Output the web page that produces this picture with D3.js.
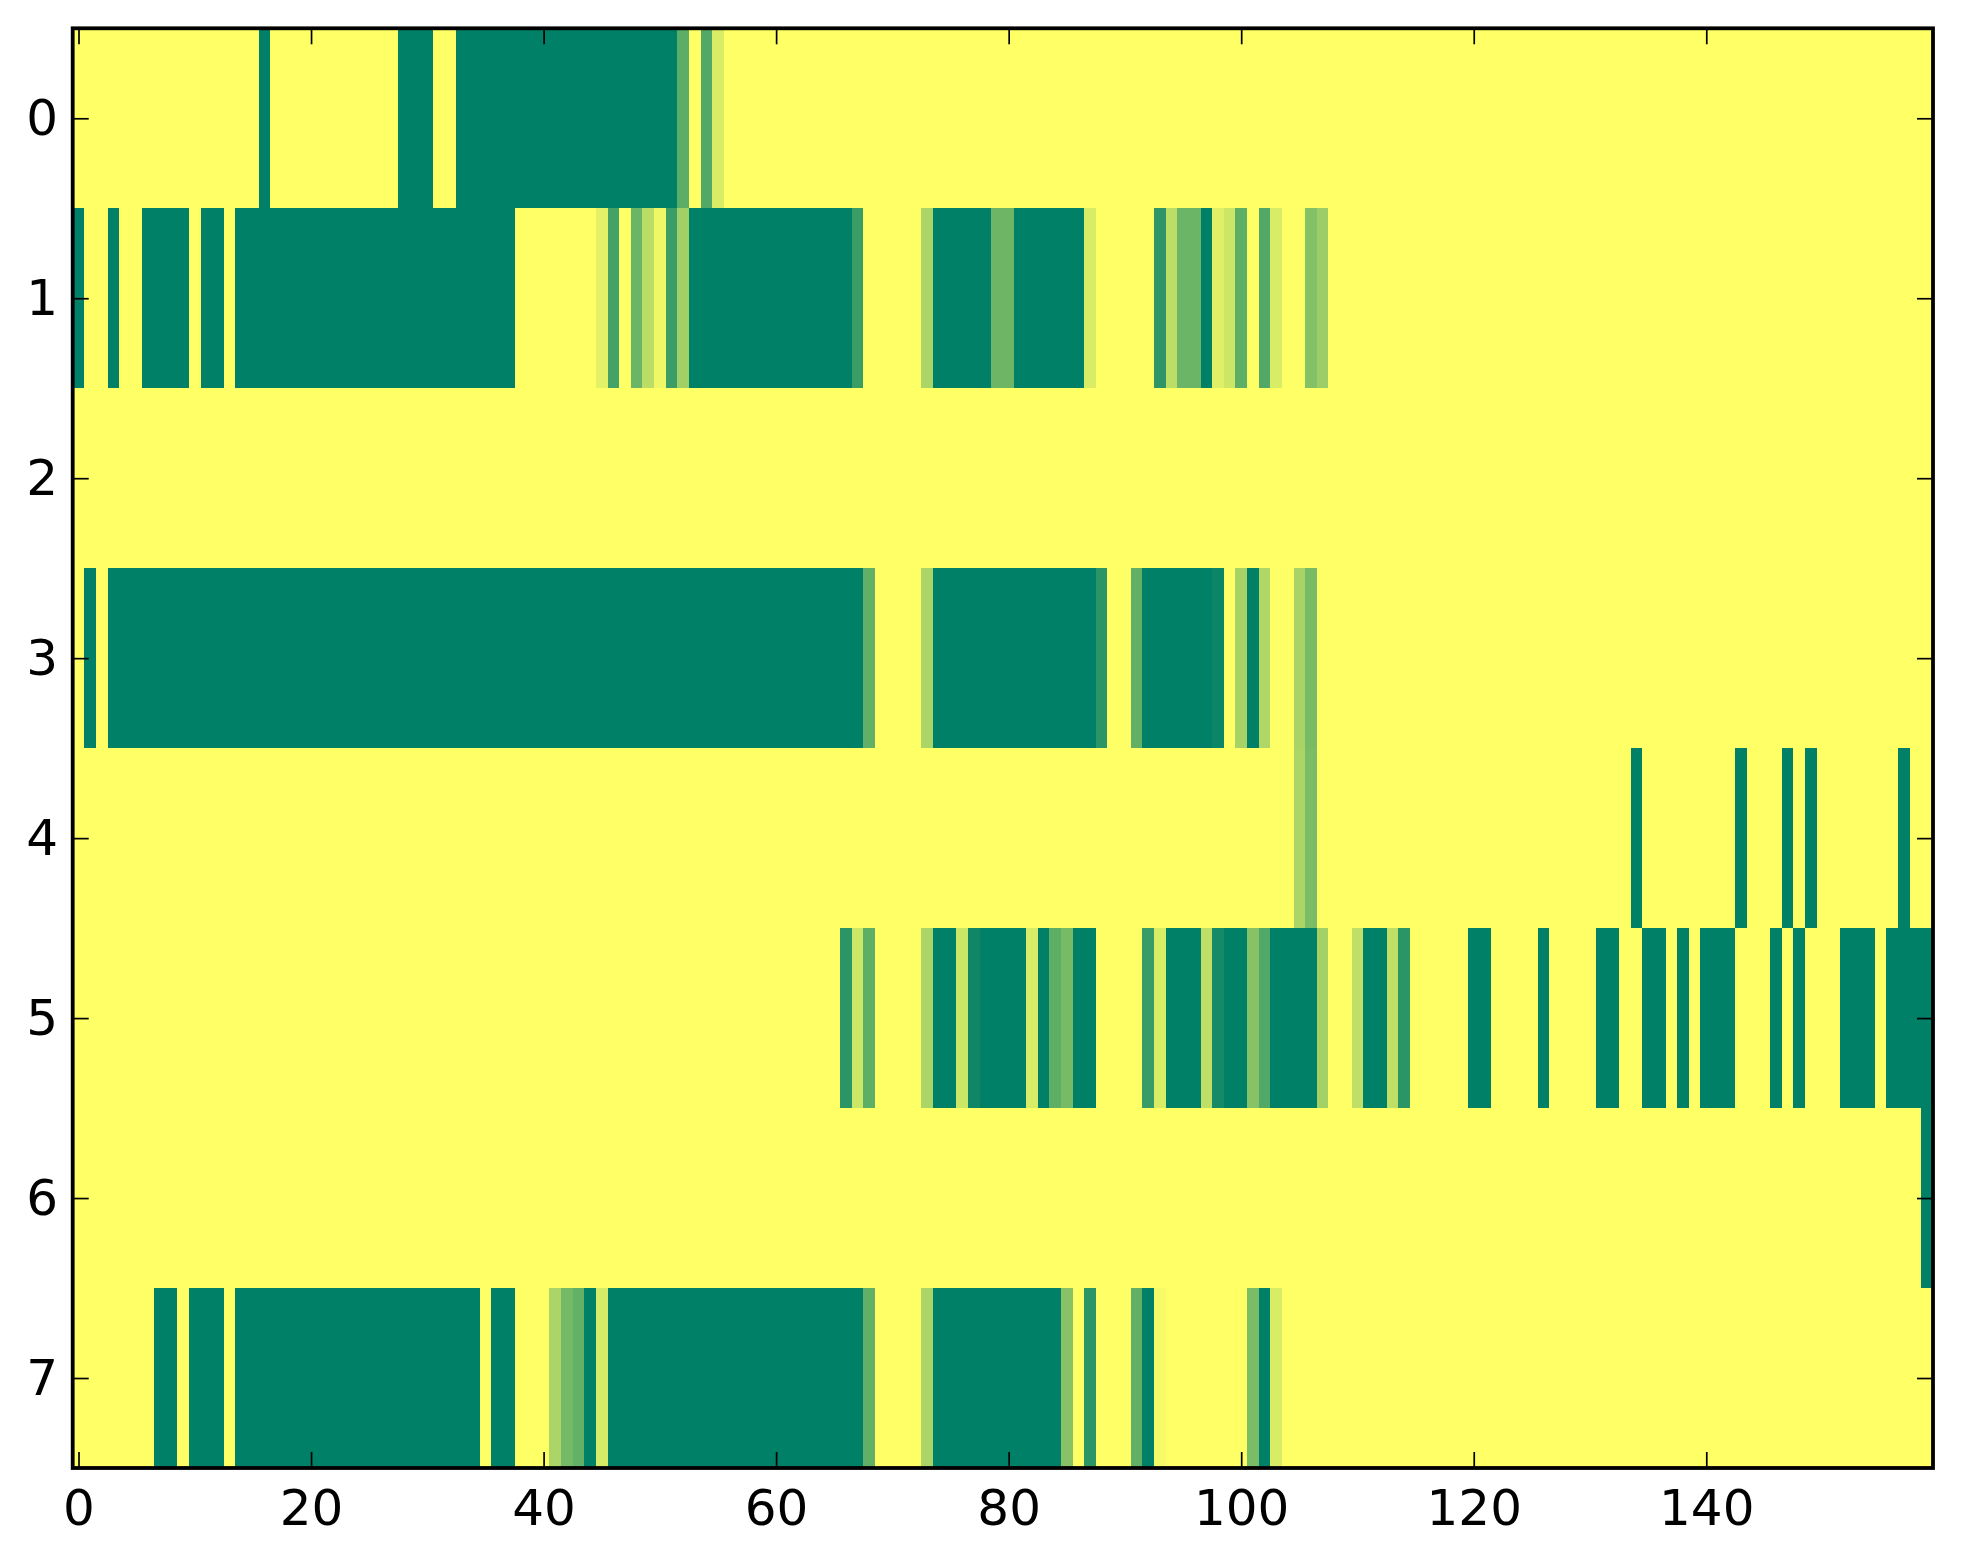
<!DOCTYPE html>
<html>
<head>
<meta charset="utf-8">
<script src="https://cdn.jsdelivr.net/npm/d3@7"></script>
<style>
  html, body { margin: 0; padding: 0; background: #ffffff; }
  svg { display: block; }
</style>
</head>
<body>
<svg id="chart" width="1963" height="1564"></svg>
<script>
// ---- data: 8 rows x 160 columns; each row listed as runs [firstCol, lastCol, value]; unlisted cells are 0
const nCols = 160;
const rowLabels = [0, 1, 2, 3, 4, 5, 6, 7];
const xTickValues = [0, 20, 40, 60, 80, 100, 120, 140];

const row0 = [[16,16,1],[28,30,1],[33,51,1],[52,52,0.64],[54,54,0.68],[55,55,0.15]];
const row1 = [[0,0,1],[3,3,1],[6,9,1],[11,12,1],[14,37,1],[45,45,0.11],[46,46,0.73],[48,48,0.58],
              [49,49,0.27],[50,50,0.06],[51,51,0.77],[52,52,0.37],[53,66,1],[67,67,0.77],[73,73,0.33],
              [74,78,1],[79,80,0.57],[81,86,1],[87,87,0.15],[93,93,0.82],[94,94,0.26],[95,96,0.58],
              [97,97,1],[98,98,0.12],[99,99,0.2],[100,100,0.63],[102,102,0.68],[103,103,0.15],
              [106,106,0.49],[107,107,0.39]];
const row2 = [];
const row3 = [[1,1,1],[3,67,1],[68,68,0.62],[73,73,0.33],[74,87,1],[88,88,0.83],[91,91,0.62],
              [92,97,1],[98,98,0.96],[100,100,0.35],[101,101,1],[102,102,0.31],[105,105,0.34],[106,106,0.53]];
const row4 = [[105,105,0.33],[106,106,0.52],[134,134,1],[143,143,1],[147,147,1],[149,149,1],[157,157,1]];
const row5 = [[66,66,0.83],[67,67,0.2],[68,68,0.63],[73,73,0.33],[74,75,1],[76,76,0.2],[77,77,0.94],
              [78,81,1],[82,82,0.15],[83,83,1],[84,84,0.63],[85,85,0.53],[86,87,1],[92,92,0.78],
              [93,93,0.15],[94,96,1],[97,97,0.25],[98,98,0.92],[99,100,1],[101,101,0.47],[102,102,0.68],
              [103,106,1],[107,107,0.36],[110,110,0.25],[111,112,1],[113,113,0.25],[114,114,0.83],
              [120,121,1],[126,126,1],[131,132,1],[135,136,1],[138,138,1],[140,142,1],[146,146,1],
              [148,148,1],[152,154,1],[156,159,1]];
const row6 = [[159,159,1]];
const row7 = [[7,8,1],[10,12,1],[14,34,1],[36,37,1],[41,41,0.33],[42,42,0.55],[43,43,0.61],[44,44,1],
              [45,45,0.16],[46,67,1],[68,68,0.62],[73,73,0.33],[74,84,1],[85,85,0.47],[87,87,0.83],
              [91,91,0.62],[92,92,1],[93,93,0.04],[101,101,0.52],[102,102,1],[103,103,0.15]];

const rowRuns = [row0, row1, row2, row3, row4, row5, row6, row7];

(function () {
  // build cell table from the runs
  const cells = [];
  rowRuns.forEach((runs, r) => {
    const vals = new Array(nCols).fill(0);
    runs.forEach(([a, b, v]) => { for (let c = a; c <= b; c++) vals[c] = v; });
    vals.forEach((v, c) => cells.push({ row: r, col: c, value: v }));
  });

  // ---- layout
  const W = 1963, H = 1564;
  const pL = 72.7, pR = 1933, pT = 28.3, pB = 1468;

  const svg = d3.select('#chart');
  svg.append('rect').attr('width', W).attr('height', H).attr('fill', '#ffffff');

  const x = d3.scaleLinear().domain([-0.5, nCols - 0.5]).range([pL, pR]);
  const y = d3.scaleLinear().domain([-0.5, rowLabels.length - 0.5]).range([pT, pB]);

  // matplotlib "summer_r" colormap
  const summerR = t => d3.rgb(255 * (1 - t), 255 * (1 - t / 2), 0.4 * 255).toString();
  const color = d3.scaleSequential(summerR).domain([0, 1]);

  svg.append('g').attr('shape-rendering', 'crispEdges')
    .selectAll('rect').data(cells).join('rect')
    .attr('x', d => x(d.col - 0.5))
    .attr('y', d => y(d.row - 0.5))
    .attr('width', d => x(d.col + 0.5) - x(d.col - 0.5) + 0.6)
    .attr('height', d => y(d.row + 0.5) - y(d.row - 0.5) + 0.6)
    .attr('fill', d => color(d.value));

  // ---- axes (ticks point inward, on all four sides)
  const fontFam = '"DejaVu Sans", "Bitstream Vera Sans", sans-serif';
  const tickLen = 16;

  function styleAxis(g) {
    g.select('.domain').remove();
    g.selectAll('.tick line').attr('stroke', '#000').attr('stroke-width', 1.7);
    g.selectAll('.tick text').attr('fill', '#000').attr('font-family', fontFam).attr('font-size', 50);
  }

  svg.append('g').attr('transform', `translate(0,${pB})`)
    .call(d3.axisBottom(x).tickValues(xTickValues).tickSizeInner(-tickLen).tickSizeOuter(0).tickPadding(21))
    .call(styleAxis);

  svg.append('g').attr('transform', `translate(0,${pT})`)
    .call(d3.axisTop(x).tickValues(xTickValues).tickSizeInner(-tickLen).tickSizeOuter(0).tickFormat(''))
    .call(styleAxis);

  svg.append('g').attr('transform', `translate(${pL},0)`)
    .call(d3.axisLeft(y).tickValues(rowLabels).tickSizeInner(-tickLen).tickSizeOuter(0).tickPadding(14.7))
    .call(styleAxis);

  svg.append('g').attr('transform', `translate(${pR},0)`)
    .call(d3.axisRight(y).tickValues(rowLabels).tickSizeInner(-tickLen).tickSizeOuter(0).tickFormat(''))
    .call(styleAxis);

  // frame
  svg.append('rect')
    .attr('x', pL).attr('y', pT)
    .attr('width', pR - pL).attr('height', pB - pT)
    .attr('fill', 'none').attr('stroke', '#000').attr('stroke-width', 3.8);
})();
</script>
</body>
</html>
